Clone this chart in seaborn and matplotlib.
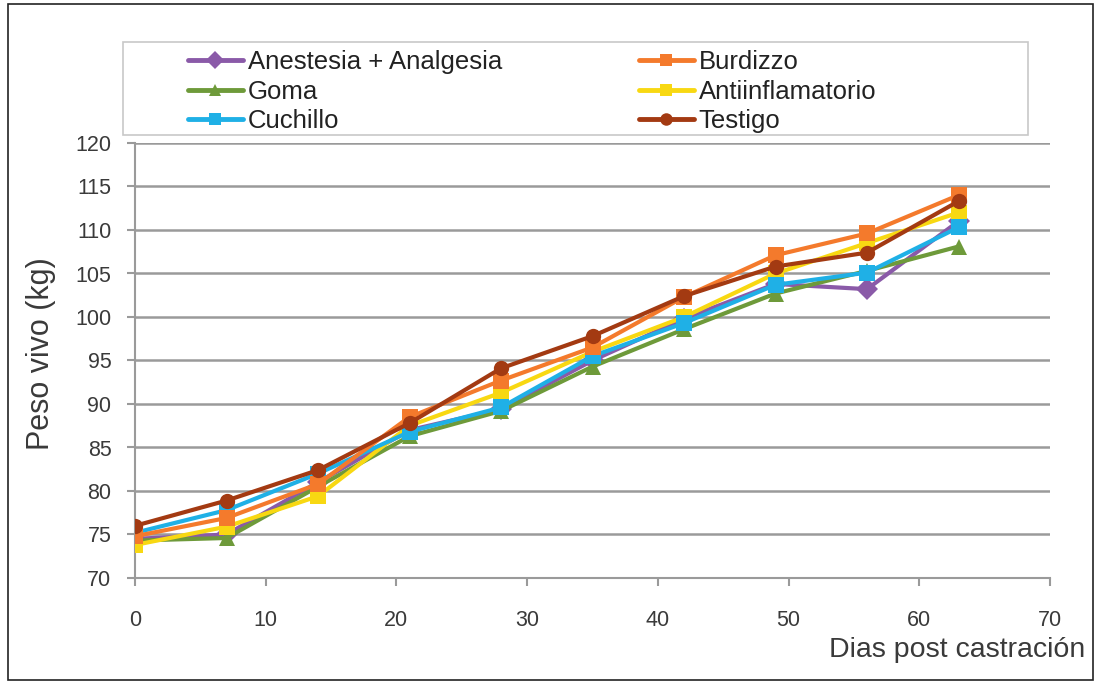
import numpy as np
import pandas as pd
import matplotlib
matplotlib.use("Agg")
import matplotlib.pyplot as plt
import seaborn as sns
from matplotlib.patches import Rectangle
from matplotlib.lines import Line2D

dias = [0, 7, 14, 21, 28, 35, 42, 49, 56, 63]
anestesia = [74.5, 75.0, 81.0, 87.0, 89.4, 95.0, 99.8, 103.8, 103.2, 111.0]
burdizzo = [74.8, 76.9, 80.8, 88.5, 92.7, 96.5, 102.3, 107.1, 109.6, 114.0]
goma = [74.3, 74.6, 80.5, 86.3, 89.2, 94.3, 98.6, 102.7, 105.3, 108.1]
antiinflamatorio = [73.8, 75.9, 79.4, 87.5, 91.3, 96.0, 100.0, 105.0, 108.5, 112.0]
cuchillo = [75.2, 77.8, 82.0, 86.8, 89.6, 95.5, 99.3, 103.7, 105.1, 110.3]
testigo = [76.0, 78.9, 82.4, 87.8, 94.1, 97.8, 102.4, 105.8, 107.4, 113.3]

series_names = ["Anestesia + Analgesia", "Goma", "Cuchillo",
                "Burdizzo", "Antiinflamatorio", "Testigo"]
series_vals = [anestesia, goma, cuchillo, burdizzo, antiinflamatorio, testigo]
y_ticks = [70, 75, 80, 85, 90, 95, 100, 105, 110, 115, 120]
x_ticks = [0, 10, 20, 30, 40, 50, 60, 70]

rows = []
for name, vals in zip(series_names, series_vals):
    for d, v in zip(dias, vals):
        rows.append({"dia": d, "peso": v, "grupo": name})
df = pd.DataFrame(rows)

palette = {
    "Anestesia + Analgesia": "#8a5aa8",
    "Burdizzo": "#f47a2c",
    "Goma": "#6e9a3a",
    "Antiinflamatorio": "#f8d812",
    "Cuchillo": "#1fb0e6",
    "Testigo": "#a33a12",
}
markers = {
    "Anestesia + Analgesia": "D",
    "Burdizzo": "s",
    "Goma": "^",
    "Antiinflamatorio": "s",
    "Cuchillo": "s",
    "Testigo": "o",
}

sns.set_style("white")
plt.rcParams['font.family'] = ['Liberation Sans', 'DejaVu Sans']

W, H = 1102, 684
fig = plt.figure(figsize=(W / 100, H / 100), dpi=100)
ax = fig.add_axes([135 / W, 1 - 578 / H, (1050 - 135) / W, (578 - 143) / H])

plot_order = ["Anestesia + Analgesia", "Goma", "Antiinflamatorio",
              "Cuchillo", "Burdizzo", "Testigo"]
sns.lineplot(data=df, x="dia", y="peso", hue="grupo", style="grupo",
             hue_order=plot_order, style_order=plot_order,
             palette=palette, markers=markers, dashes=False,
             linewidth=3, markersize=11, markeredgewidth=0,
             ax=ax, legend=False, zorder=3)

ax.set_xlim(0, 70)
ax.set_ylim(70, 120)
ax.set_xticks(x_ticks)
ax.set_yticks(y_ticks)
ax.yaxis.grid(True, color="#9a9a9a", linewidth=1.8, zorder=0)
ax.xaxis.grid(False)
for s in ["top", "right"]:
    ax.spines[s].set_visible(False)
for s in ["left", "bottom"]:
    ax.spines[s].set_color("#9a9a9a")
    ax.spines[s].set_linewidth(1.5)
ax.tick_params(axis="both", which="both", direction="out", length=6,
               width=1.5, color="#9a9a9a", labelsize=15.5, labelcolor="#3a3a3a",
               left=True, bottom=True)
ax.tick_params(axis="y", pad=11)
ax.tick_params(axis="x", pad=17)
ax.set_xlabel("")
ax.set_ylabel("Peso vivo (kg)", fontsize=22, color="#3a3a3a")
ax.yaxis.set_label_coords(-0.086, 0.515)

# legend frame
fig.patches.append(Rectangle((123 / W, 1 - 135 / H), (1028 - 123) / W, (135 - 42) / H,
                             transform=fig.transFigure, fill=True, facecolor="white",
                             edgecolor="#c8c8c8", linewidth=1.2, zorder=1))

legend_order = ["Anestesia + Analgesia", "Goma", "Cuchillo",
                "Burdizzo", "Antiinflamatorio", "Testigo"]
handles = [Line2D([], [], color=palette[n], marker=markers[n], linewidth=3.5,
                  markersize=9, markeredgewidth=0) for n in legend_order]
leg = fig.legend(handles, legend_order, ncol=2, loc="upper left",
                 bbox_to_anchor=(188 / W, 1 - 50 / H),
                 fontsize=18.5, frameon=False,
                 handlelength=2.14, handletextpad=0.2, labelspacing=0.22,
                 borderpad=0, columnspacing=5.3, borderaxespad=0)
for t in leg.get_texts():
    t.set_color("#222222")

fig.text(1085 / W, 1 - 657 / H, "Dias post castración", ha="right",
         va="baseline", fontsize=20.5, color="#3a3a3a")

fig.patches.append(Rectangle((8 / W, 4 / H), (1093 - 8) / W, (680 - 4) / H,
                             transform=fig.transFigure, fill=False,
                             edgecolor="#222222", linewidth=1.2))

fig.savefig("out.png", dpi=100)
